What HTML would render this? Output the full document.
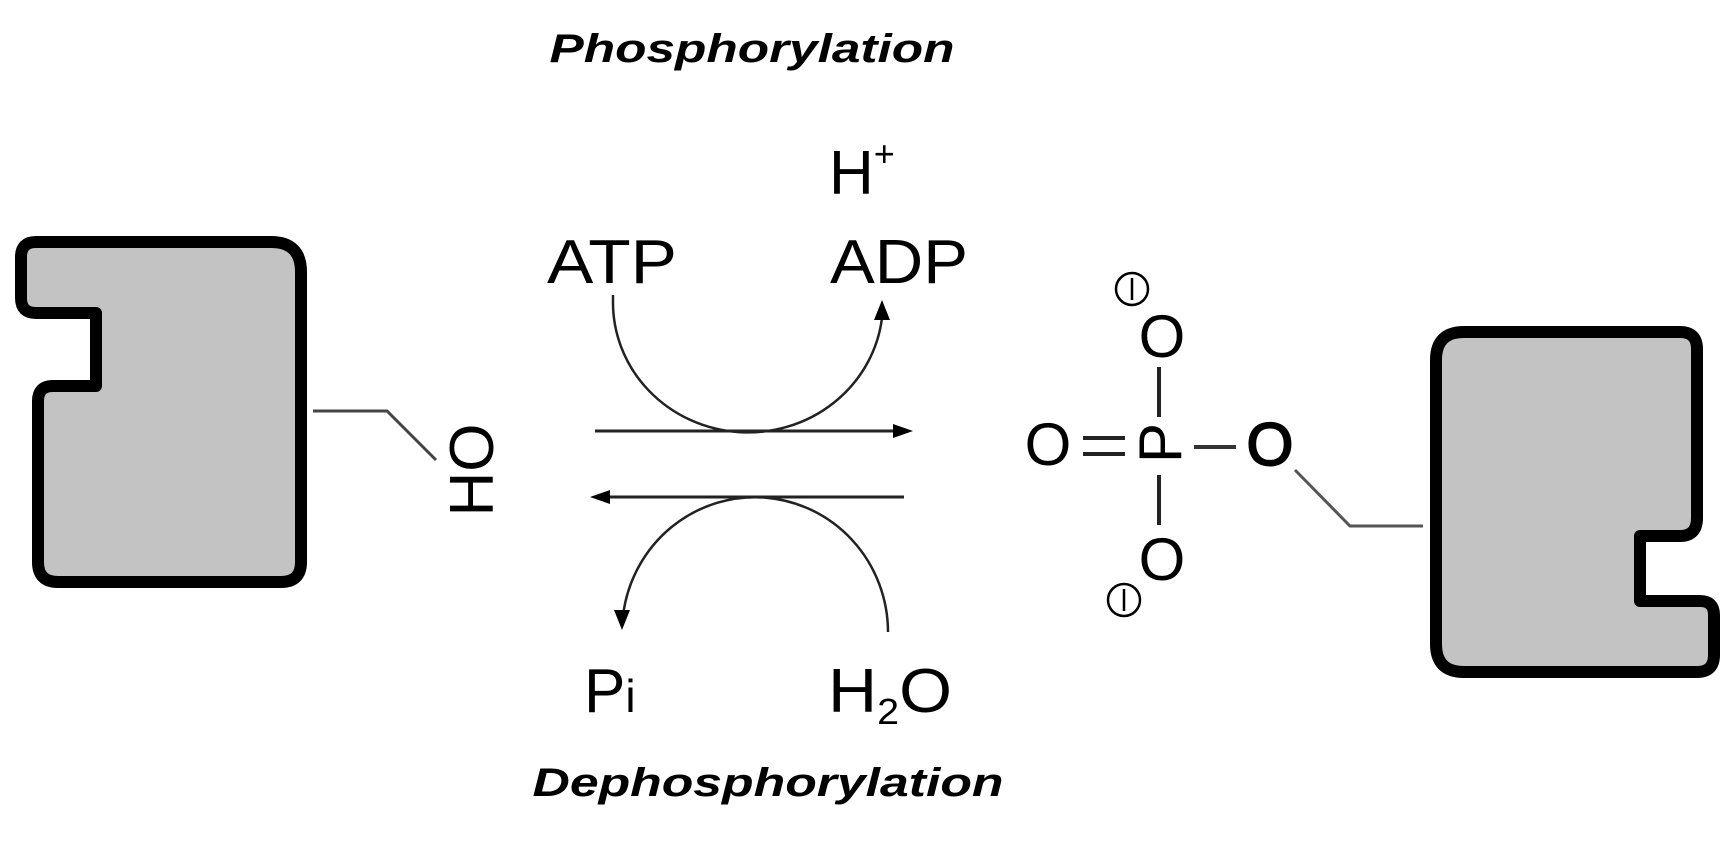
<!DOCTYPE html>
<html><head><meta charset="utf-8"><style>
html,body{margin:0;padding:0;background:#fff;}
svg{display:block;}
text{font-family:"Liberation Sans",Arial,sans-serif;fill:#000;}
</style></head><body>
<svg width="1731" height="844" viewBox="0 0 1731 844" xmlns="http://www.w3.org/2000/svg">
<!-- titles -->
<text x="752" y="62" font-size="40" font-weight="bold" font-style="italic" text-anchor="middle" textLength="405" lengthAdjust="spacingAndGlyphs">Phosphorylation</text>
<text x="768" y="796" font-size="40" font-weight="bold" font-style="italic" text-anchor="middle" textLength="471" lengthAdjust="spacingAndGlyphs">Dephosphorylation</text>

<!-- left protein -->
<path d="M36 242 H271 Q301 242 301 272 V562 Q301 582 281 582 H58 Q38 582 38 562 V401 Q38 386 53 386 H96 V313 H36 Q21 313 21 298 V257 Q21 242 36 242 Z" fill="#c3c3c3" stroke="#000" stroke-width="12" stroke-linejoin="round"/>
<path d="M313 411 H387 L436 460" fill="none" stroke="#444" stroke-width="3"/>
<text transform="translate(471,470) rotate(-90)" x="0" y="22" font-size="62" text-anchor="middle">HO</text>

<!-- right protein -->
<path d="M1436 360 Q1436 332 1464 332 H1680 Q1697 332 1697 349 V518 Q1697 536 1680 536 H1640 V601 H1700 Q1714 601 1714 615 V655 Q1714 672 1697 672 H1464 Q1436 672 1436 644 Z" fill="#c3c3c3" stroke="#000" stroke-width="12" stroke-linejoin="round"/>
<path d="M1295 470 L1350 526 H1423" fill="none" stroke="#555" stroke-width="3"/>

<!-- reaction arrows -->
<line x1="595" y1="431" x2="897" y2="431" stroke="#222" stroke-width="3"/>
<polygon points="913,431 893,424 893,438" fill="#000"/>
<line x1="606" y1="497" x2="904" y2="497" stroke="#222" stroke-width="3"/>
<polygon points="590,497 610,490 610,504" fill="#000"/>

<path d="M613 295 L613 300 A135 130 0 0 0 882 318" fill="none" stroke="#222" stroke-width="2.5"/>
<polygon points="882,300 874,320 890,320" fill="#000"/>
<path d="M888 632 A133 135 0 0 0 623.5 612" fill="none" stroke="#222" stroke-width="2.5"/>
<polygon points="622,630 614,610 630,610" fill="#000"/>

<text x="547" y="283" font-size="62" textLength="130" lengthAdjust="spacingAndGlyphs">ATP</text>
<text x="830" y="283" font-size="62" textLength="138" lengthAdjust="spacingAndGlyphs">ADP</text>
<text x="829" y="194" font-size="62">H<tspan font-size="36" dy="-28">+</tspan></text>
<text x="584" y="712" font-size="62">P<tspan font-size="46">i</tspan></text>
<text x="828" y="712" font-size="62" textLength="124" lengthAdjust="spacingAndGlyphs">H<tspan font-size="36" dy="12">2</tspan><tspan dy="-12">O</tspan></text>

<!-- phosphate -->
<text x="1048" y="465" font-size="60" text-anchor="middle">O</text>
<text x="1270" y="465" font-size="60" text-anchor="middle" stroke="#000" stroke-width="2">O</text>
<text x="1162" y="357" font-size="60" text-anchor="middle">O</text>
<text x="1162" y="580" font-size="60" text-anchor="middle">O</text>
<text transform="translate(1160,443) rotate(-90)" x="0" y="21" font-size="60" text-anchor="middle">P</text>
<line x1="1083" y1="438" x2="1125" y2="438" stroke="#222" stroke-width="4"/>
<line x1="1083" y1="454" x2="1125" y2="454" stroke="#222" stroke-width="4"/>
<line x1="1194" y1="447" x2="1236" y2="447" stroke="#333" stroke-width="4"/>
<line x1="1159" y1="367" x2="1159" y2="417" stroke="#222" stroke-width="4"/>
<line x1="1159" y1="475" x2="1159" y2="525" stroke="#222" stroke-width="4"/>
<circle cx="1132" cy="289" r="16" fill="none" stroke="#000" stroke-width="2.5"/>
<line x1="1132" y1="278" x2="1132" y2="300" stroke="#000" stroke-width="2.5"/>
<circle cx="1124" cy="600" r="16" fill="none" stroke="#000" stroke-width="2.5"/>
<line x1="1124" y1="589" x2="1124" y2="611" stroke="#000" stroke-width="2.5"/>
</svg>
</body></html>
